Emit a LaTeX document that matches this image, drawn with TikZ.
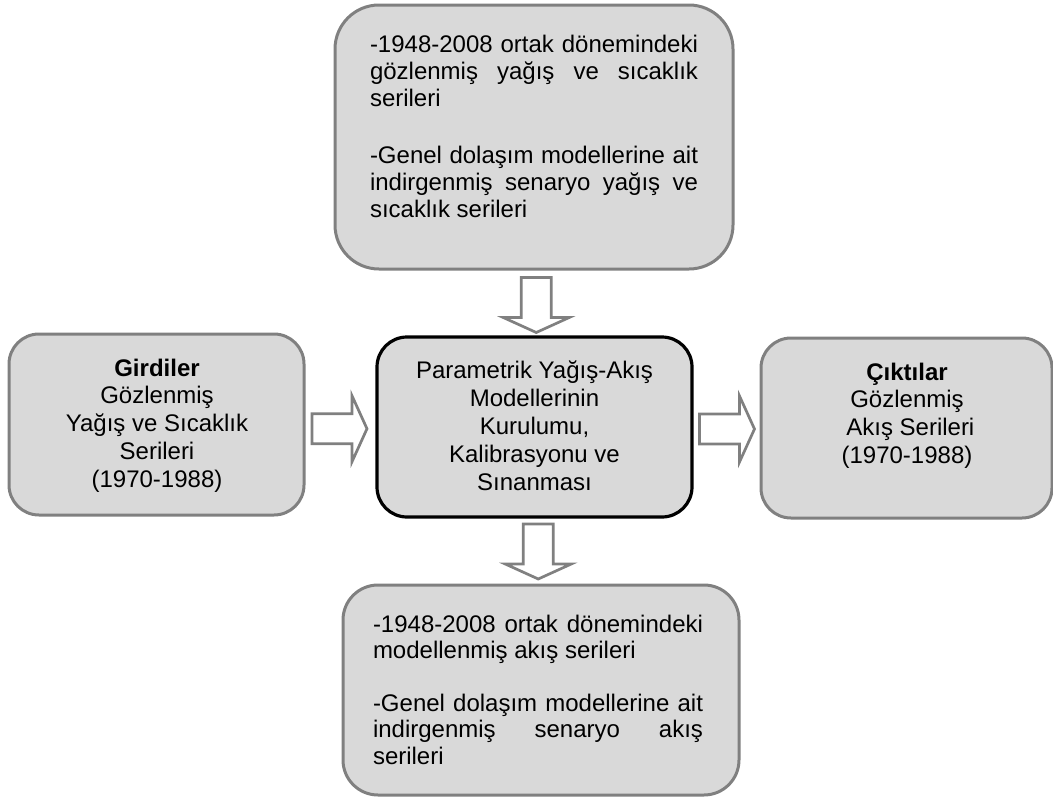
\documentclass[tikz,border=0pt]{standalone}
\usepackage{fontspec}
\setmainfont{Liberation Sans}
\usetikzlibrary{calc}
\definecolor{boxfill}{HTML}{D9D9D9}
\definecolor{boxedge}{HTML}{808080}

% a justified line of fixed width, and a line centred on its anchor
\newcommand{\jline}[2]{\hbox to #1{#2}}
\newcommand{\cent}[1]{\hbox to 0pt{\hss #1\hss}}

\begin{document}
\begin{tikzpicture}[x=1pt,y=-1pt,
  panel/.style={rectangle, draw=boxedge, fill=boxfill, line width=3pt,
    rounded corners=#1, inner sep=0pt, outer sep=0pt},
  txt/.style={inner sep=0pt, outer sep=0pt, font=\fontsize{24pt}{27.6pt}\selectfont},
  arrowline/.style={draw=boxedge, fill=white, line width=2.7pt, line join=miter},
  blockarrow/.pic={\draw[arrowline] (-27.5,-15) -- (12.5,-15) -- (12.5,-33) -- (27.5,0)
      -- (12.5,33) -- (12.5,15) -- (-27.5,15) -- cycle;}]
\useasboundingbox (0,0) rectangle (1053,798);

% boxes
\node[panel=44pt, minimum width=398pt, minimum height=264pt] (top) at (534,137) {};
\node[panel=30pt, minimum width=295pt, minimum height=181pt] (inputs) at (156.5,424.5) {};
\node[panel=30pt, draw=black, line width=3.2pt, minimum width=315pt, minimum height=180pt] (core) at (534.5,427) {};
\node[panel=30pt, minimum width=291pt, minimum height=180pt] (outputs) at (906.5,428) {};
\node[panel=35pt, minimum width=396pt, minimum height=210pt] (bottom) at (541,690) {};

% texts
\node[txt, anchor=base west] (toptext) at (370,52) {\vtop{\baselineskip=27pt
  \jline{328pt}{-1948-2008 ortak dönemindeki}
  \jline{328pt}{gözlenmiş yağış ve sıcaklık}
  \hbox{serileri}
  \vskip 30pt
  \jline{328pt}{-Genel dolaşım modellerine ait}
  \jline{328pt}{indirgenmiş senaryo yağış ve}
  \hbox{sıcaklık serileri}}};

\node[txt, anchor=base] (intext) at (157,376) {\vtop{\baselineskip=27.75pt
  \cent{\bfseries Girdiler}
  \cent{Gözlenmiş}
  \cent{Yağış ve Sıcaklık}
  \cent{Serileri}
  \cent{(1970-1988)}}};

\node[txt, anchor=base] (coretext) at (534.5,378) {\vtop{\baselineskip=28pt
  \cent{Parametrik Yağış-Akış}
  \cent{Modellerinin}
  \cent{Kurulumu,}
  \cent{Kalibrasyonu ve}
  \cent{Sınanması}}};

\node[txt, anchor=base] (outtext) at (907,380) {\vtop{\baselineskip=27.7pt
  \cent{\bfseries Çıktılar}
  \cent{Gözlenmiş}
  \cent{\ Akış Serileri}
  \cent{(1970-1988)}}};

\node[txt, anchor=base west] (bottomtext) at (373,632) {\vtop{\baselineskip=26.5pt
  \jline{330pt}{-1948-2008 ortak dönemindeki}
  \hbox{modellenmiş akış serileri}
  \vskip 26pt
  \jline{330pt}{-Genel dolaşım modellerine ait}
  \jline{330pt}{indirgenmiş senaryo akış}
  \hbox{serileri}}};

% block arrows between the boxes
\pic[rotate=-90] at ($(top.south)!0.5!(core.north)+(2,2)$) {blockarrow};
\pic at ($(inputs.east)!0.5!(core.west)+(-1,3)$) {blockarrow};
\pic at ($(core.east)!0.5!(outputs.west)+(0.5,1.5)$) {blockarrow};
\pic[rotate=-90] at ($(core.south)!0.5!(bottom.north)+(0.5,0.5)$) {blockarrow};
\end{tikzpicture}
\end{document}
